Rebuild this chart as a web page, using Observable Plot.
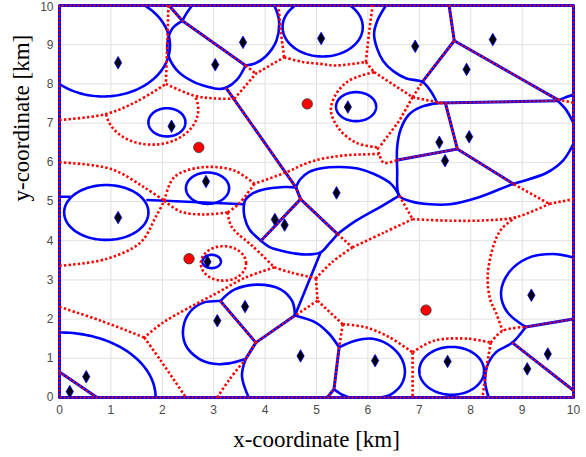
<!DOCTYPE html>
<html><head><meta charset="utf-8">
<script src="https://cdn.jsdelivr.net/npm/d3@7"></script>
<script src="https://cdn.jsdelivr.net/npm/@observablehq/plot@0.6"></script>
<style>body{margin:0;background:#fff}</style>
</head><body><div id="chart"></div>
<script>
const xTicks = [0,1,2,3,4,5,6,7,8,9,10];
const yTicks = [0,1,2,3,4,5,6,7,8,9];
const yTopTick = [10];

// users (diamonds)
const sites = [[0.20,0.15],[0.52,0.53],[1.14,4.59],[1.14,8.54],[2.18,6.92],[2.85,5.51],[2.88,3.46],[3.07,1.96],[3.61,2.32],[3.03,8.49],[3.57,9.06],[4.19,4.54],[4.38,4.40],[4.69,1.06],[5.09,9.16],[5.39,5.22],[5.61,7.41],[6.14,0.94],[6.92,8.96],[7.39,6.51],[7.97,6.65],[7.50,6.04],[7.55,0.92],[7.92,8.37],[8.43,9.13],[9.10,0.73],[9.18,2.61],[9.50,1.11]];
// red stations
const stations = [[2.71,6.38],[4.82,7.49],[2.52,3.54],[7.13,2.23]];

// blue ellipses / arcs: cx, cy, rx, ry, startDeg, endDeg
const blueEllipses = [
  [0.85,8.98,1.30,1.30,229,412],
  [5.12,9.45,0.78,0.75,133,407],
  [0.91,4.72,0.82,0.70,0,360],
  [2.09,7.02,0.36,0.36,0,360],
  [2.88,5.34,0.42,0.40,0,360],
  [5.77,7.42,0.39,0.37,0,360],
  [2.96,3.47,0.18,0.17,0,360],
  [7.63,0.68,0.63,0.61,0,360],
  [0,0,1.87,1.66,0,90]
];
// red dotted ellipses / arcs
const redEllipses = [
  [1.8,7.35,0.9,0.9,188,383],
  [3.19,3.42,0.44,0.44,0,360]
];

// blue curved boundaries
const blueCurves = [
  [[2.39,9.61],[2.2,9.42],[2.10,9.05],[2.13,8.68],[2.32,8.3],[2.6,8.06],[2.9,7.92],[3.10,7.87],[3.24,7.9],[3.45,8.1],[3.62,8.47]],
  [[2.39,9.61],[2.47,9.8],[2.58,10]],
  [[4.18,10],[4.27,9.62],[4.22,9.1],[4.01,8.70],[3.8,8.52],[3.62,8.47]],
  [[4.6,5.36],[4.37,5.37],[3.95,5.3],[3.75,5.2],[3.62,5.05],[3.59,4.93],[3.6,4.6],[3.7,4.28],[3.92,4.0]],
  [[3.92,4.0],[4.1,3.83],[4.34,3.74],[4.6,3.67],[4.86,3.65],[5.08,3.70],[5.25,3.93],[5.41,4.17]],
  [[5.41,4.17],[5.77,4.51],[6.28,4.89],[6.61,5.15]],
  [[6.61,5.15],[6.45,5.45],[6.12,5.70],[5.8,5.84],[5.47,5.88],[5.1,5.85],[4.85,5.75],[4.68,5.56],[4.6,5.36]],
  [[6.35,10],[6.18,9.6],[6.12,9.28],[6.18,8.9],[6.3,8.58],[6.5,8.32],[6.75,8.14],[7.06,8.05],[7.22,7.82],[7.35,7.51]],
  [[7.35,7.51],[7.05,7.42],[6.8,7.22],[6.64,6.85],[6.57,6.4],[6.57,5.8],[6.61,5.15],[6.85,5.0],[7.2,4.93],[7.6,4.93],[8.16,5.11],[8.81,5.44],[9.46,5.72],[9.8,6.05],[10,6.48]],
  [[10,7.0],[9.85,7.35],[9.69,7.57]],
  [[9.69,7.57],[9.85,7.66],[10,7.72]],
  [[3.13,2.46],[2.8,2.42],[2.55,2.2],[2.41,1.8],[2.45,1.35],[2.7,1.0],[3.0,0.86],[3.3,0.87],[3.62,0.98]],
  [[3.13,2.46],[3.4,2.75],[3.85,2.88],[4.3,2.76],[4.53,2.45],[4.58,2.09]],
  [[3.62,0.98],[3.55,0.55],[3.68,0]],
  [[4.58,2.09],[5.0,1.9],[5.25,1.62],[5.44,1.28]],
  [[5.44,1.28],[5.75,1.45],[6.1,1.5],[6.48,1.27],[6.7,0.85],[6.68,0.4],[6.45,0.08],[6.22,0]],
  [[5.34,0.21],[5.5,0.07],[5.64,0]],
  [[10,3.57],[9.6,3.66],[9.1,3.55],[8.75,3.2],[8.59,2.68],[8.7,2.2],[9.07,1.80]],
  [[8.35,0],[8.28,0.4],[8.32,0.8],[8.49,1.15],[8.81,1.40],[9.07,1.80]]
];
// blue straight boundaries
const blueLines = [
  [[0,5.12],[0.2,5.12]],
  [[1.71,5.04],[3.59,4.93]],
  [[4.58,2.09],[5.08,3.70]]
];
// blue boundaries overlaid with red dots
const blueRedLines = [
  [[0,0],[10,0],[10,10],[0,10],[0,0]],
  [[2.13,10],[2.39,9.61],[3.62,8.47]],
  [[3.24,7.9],[4.6,5.36],[4.69,5.06]],
  [[4.69,5.06],[3.92,4.0]],
  [[4.69,5.06],[5.41,4.17]],
  [[7.58,10],[7.68,9.1],[7.06,8.05]],
  [[7.68,9.1],[9.69,7.6]],
  [[7.35,7.51],[9.69,7.57]],
  [[7.51,7.5],[7.74,6.34]],
  [[6.58,6.06],[7.74,6.34],[8.84,5.44]],
  [[0,0.65],[0.73,0]],
  [[3.13,2.46],[3.82,1.40]],
  [[3.82,1.40],[4.58,2.09]],
  [[3.82,1.40],[3.62,0.98]],
  [[5.44,1.28],[5.34,0.21],[5.21,0]],
  [[8.81,1.40],[10,0.18]],
  [[9.07,1.80],[10,2.0]]
];
// red dotted curved boundaries
const redCurves = [
  [[2.12,10],[2.10,9.2],[2.07,8.0]],
  [[0,7.08],[0.9,7.23],[1.5,7.55],[2.07,8.0]],
  [[2.07,8.0],[2.62,7.70],[3.0,7.63],[3.40,7.62]],
  [[4.37,8.68],[4.73,8.56],[5.08,8.51],[5.38,8.47],[5.96,8.56]],
  [[6.12,8.30],[5.64,8.09],[5.38,7.74],[5.28,7.32],[5.44,6.85],[5.77,6.50],[6.19,6.38]],
  [[6.19,6.38],[6.22,6.21],[6.31,5.99],[6.58,6.06]],
  [[6.22,6.21],[5.5,6.17],[4.9,6.02],[4.40,5.74],[3.79,5.45]],
  [[2.04,5.02],[2.23,5.62],[2.75,5.87],[3.40,5.79],[3.79,5.45]],
  [[3.79,5.45],[3.49,4.94],[3.27,4.72]],
  [[2.04,5.02],[2.36,4.74],[2.8,4.67],[3.27,4.72]],
  [[3.27,4.72],[3.33,4.4],[3.45,4.2],[3.75,3.87],[4.18,3.32]],
  [[4.18,3.32],[4.5,3.19],[4.99,3.04]],
  [[4.18,3.32],[3.6,3.05],[3.04,2.65],[2.49,2.27],[2.0,1.9],[1.65,1.53]],
  [[0,6.0],[1.0,5.83],[1.65,5.36],[2.04,5.02]],
  [[0,3.36],[0.9,3.53],[1.58,3.96],[1.87,4.6],[2.04,5.02]],
  [[0,2.31],[0.8,1.96],[1.65,1.53]],
  [[1.65,1.53],[1.97,0.94],[2.46,0]],
  [[3.07,0],[3.3,0.45],[3.62,0.98]],
  [[5.70,3.83],[6.3,4.2],[6.87,4.55]],
  [[5.70,3.83],[5.3,3.45],[4.99,3.04]],
  [[5.51,1.87],[5.96,1.79],[6.4,1.55],[6.87,1.15]],
  [[6.87,1.15],[7.29,1.45],[7.94,1.50],[8.39,1.40]],
  [[8.39,1.40],[8.62,1.70],[9.07,1.80]],
  [[8.39,1.40],[8.3,0.7],[8.23,0]],
  [[8.88,4.60],[8.6,4.3],[8.45,3.9],[8.33,3.11],[8.38,2.5],[8.49,2.17],[8.62,1.70]],
  [[6.87,4.55],[7.61,4.51],[8.3,4.52],[8.88,4.60],[9.53,4.94]]
];
// red dotted straight boundaries
const redLines = [
  [[3.40,7.62],[3.82,8.26],[4.37,8.68]],
  [[4.37,8.68],[4.31,9.28],[4.26,10]],
  [[3.62,8.47],[3.82,8.26]],
  [[5.96,8.56],[6.02,9.28],[6.09,10]],
  [[5.96,8.56],[6.12,8.30]],
  [[6.12,8.30],[6.87,7.66],[7.48,7.50]],
  [[6.87,7.66],[7.06,8.05]],
  [[6.87,7.66],[6.61,7.06],[6.22,6.38]],
  [[5.41,4.17],[5.70,3.83]],
  [[4.99,3.04],[5.02,2.47]],
  [[5.02,2.47],[4.58,2.09]],
  [[5.02,2.47],[5.51,1.87]],
  [[5.51,1.87],[5.44,1.28]],
  [[6.87,1.15],[6.87,0]],
  [[6.61,5.15],[6.87,4.55]],
  [[9.53,4.94],[10,5.06]],
  [[8.84,5.44],[9.53,4.94]],
  [[9.69,7.6],[10,7.52]]
];

function toRows(list, p) {
  return list.flatMap((pts, i) => pts.map(([x, y]) => ({x, y, id: p + i})));
}
function ellipseRows(list, p) {
  return list.flatMap(([cx, cy, rx, ry, a0, a1], i) => {
    const n = Math.max(12, Math.ceil(Math.abs(a1 - a0) / 2));
    return d3.range(n + 1).map(k => {
      const a = (a0 + (a1 - a0) * k / n) * Math.PI / 180;
      return {x: cx + rx * Math.cos(a), y: cy + ry * Math.sin(a), id: p + i};
    });
  });
}

const BLUE = "#0000ff", RED = "#ff0000";
const dotted = {stroke: RED, strokeWidth: 2.6, strokeDasharray: "2.4,2.2", strokeLinecap: "butt", strokeLinejoin: "miter"};
const tickStyle = {tickSize: 0, color: "#4a4a4a", fontSize: 12, label: null};

const chart = Plot.plot({
  width: 586, height: 457,
  marginLeft: 59, marginRight: 13, marginTop: 5, marginBottom: 60,
  x: {domain: [0, 10], label: null},
  y: {domain: [0, 10], label: null},
  style: {fontFamily: "'Liberation Sans', Arial, sans-serif", fontSize: "12px", background: "white"},
  marks: [
    Plot.gridX(xTicks, {stroke: "#e0e0e0", strokeOpacity: 1}),
    Plot.gridY(yTicks.concat(yTopTick), {stroke: "#e0e0e0", strokeOpacity: 1}),
    Plot.axisX({ticks: xTicks, tickPadding: 8, ...tickStyle}),
    Plot.axisY({ticks: yTicks, tickPadding: 6, ...tickStyle}),
    Plot.axisY({ticks: yTopTick, tickPadding: 6, dy: 1.5, ...tickStyle}),
    Plot.line(ellipseRows(blueEllipses, "be"), {x: "x", y: "y", z: "id", stroke: BLUE, strokeWidth: 2.6}),
    Plot.line(toRows(blueCurves, "bc"), {x: "x", y: "y", z: "id", stroke: BLUE, strokeWidth: 2.6, curve: "catmull-rom"}),
    Plot.line(toRows(blueLines, "bl"), {x: "x", y: "y", z: "id", stroke: BLUE, strokeWidth: 2.6}),
    Plot.line(toRows(blueRedLines, "br"), {x: "x", y: "y", z: "id", stroke: BLUE, strokeWidth: 3}),
    Plot.line(toRows(blueRedLines, "br"), {x: "x", y: "y", z: "id", stroke: RED, strokeWidth: 1.9, strokeDasharray: "2,2", strokeLinecap: "butt", strokeLinejoin: "miter"}),
    Plot.line(ellipseRows(redEllipses, "re"), {x: "x", y: "y", z: "id", ...dotted}),
    Plot.line(toRows(redCurves, "rc"), {x: "x", y: "y", z: "id", ...dotted, curve: "catmull-rom"}),
    Plot.line(toRows(redLines, "rl"), {x: "x", y: "y", z: "id", ...dotted}),
    Plot.dot(sites, {x: d => d[0], y: d => d[1], symbol: "diamond", r: 3.8, fill: "black", stroke: BLUE, strokeWidth: 0.8}),
    Plot.dot(stations, {x: d => d[0], y: d => d[1], r: 5.2, fill: RED, stroke: "#333", strokeWidth: 0.8}),
    Plot.text(["x-coordinate [km]"], {frameAnchor: "bottom", dy: 42, fontSize: 23, fontFamily: "'Liberation Serif', 'Times New Roman', serif", fill: "black", lineAnchor: "middle"}),
    Plot.text(["y-coordinate [km]"], {frameAnchor: "left", dx: -38, rotate: -90, fontSize: 23, fontFamily: "'Liberation Serif', 'Times New Roman', serif", fill: "black", lineAnchor: "middle"})
  ]
});
document.getElementById("chart").appendChild(chart);
</script>
</body></html>
